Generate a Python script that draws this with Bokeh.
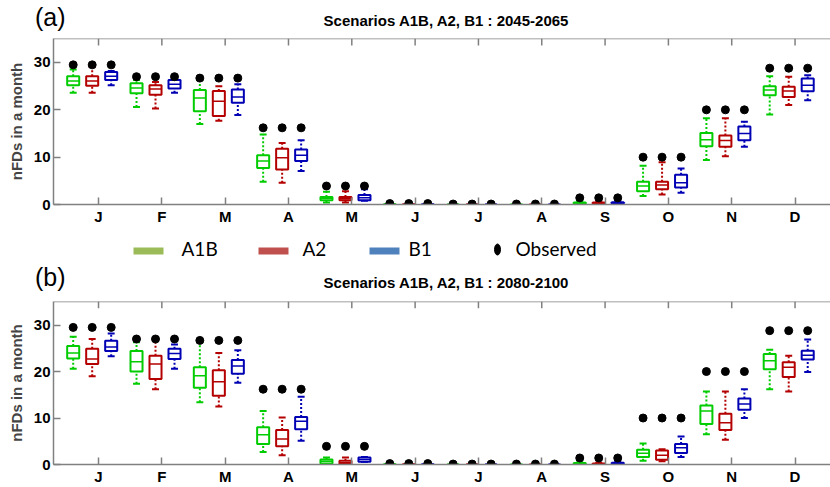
import numpy as np
from bokeh.plotting import figure
from bokeh.models import Range1d, FixedTicker, Span, Div
from bokeh.layouts import column
from bokeh.embed import file_html
from bokeh.resources import INLINE
from bokeh.core.properties import value

# ---------------- data ----------------
months = ["J", "F", "M", "A", "M", "J", "J", "A", "S", "O", "N", "D"]
month_pos = list(range(1, 13))
y_ticks = [0, 10, 20, 30]
scenarios = ["A1B", "A2", "B1"]
observed = [29.5, 27.0, 26.7, 16.2, 3.9, 0.2, 0.1, 0.1, 1.4, 10.0, 20.0, 28.8]

# Panel (a) 2045-2065
a_A1B_hi  = [28.5, 26.3, 26.3, 14.8, 2.7, 0.1, 0.05, 0.05, 0.7, 8.2, 18.2, 27.1]
a_A1B_q3  = [27.1, 25.6, 24.2, 10.4, 1.6, 0.05, 0.0, 0.0, 0.4, 4.8, 15.1, 25.0]
a_A1B_med = [26.1, 24.6, 22.5, 9.2, 1.3, 0.0, 0.0, 0.0, 0.1, 3.9, 13.7, 24.2]
a_A1B_q1  = [25.2, 23.5, 19.7, 7.7, 0.9, 0.0, 0.0, 0.0, 0.0, 2.8, 12.3, 23.1]
a_A1B_lo  = [23.6, 20.6, 17.0, 4.8, 0.4, 0.0, 0.0, 0.0, 0.0, 1.8, 9.4, 19.0]

a_A2_hi  = [29.1, 25.9, 25.0, 13.0, 2.8, 0.1, 0.05, 0.05, 0.7, 8.9, 18.2, 27.0]
a_A2_q3  = [27.1, 25.2, 24.0, 11.8, 1.6, 0.05, 0.0, 0.0, 0.4, 4.8, 14.6, 24.9]
a_A2_med = [26.1, 24.4, 21.8, 9.9, 1.2, 0.0, 0.0, 0.0, 0.1, 4.1, 13.5, 24.0]
a_A2_q1  = [25.1, 23.2, 18.7, 7.4, 0.9, 0.0, 0.0, 0.0, 0.0, 3.2, 12.2, 22.7]
a_A2_lo  = [23.6, 20.3, 17.7, 4.6, 0.4, 0.0, 0.0, 0.0, 0.0, 2.1, 10.2, 21.0]

a_B1_hi  = [28.2, 27.0, 25.4, 13.6, 3.2, 0.1, 0.05, 0.05, 0.8, 7.6, 17.5, 27.3]
a_B1_q3  = [28.0, 26.3, 24.3, 11.6, 2.0, 0.05, 0.0, 0.0, 0.5, 6.3, 16.5, 26.6]
a_B1_med = [27.1, 25.4, 22.7, 10.4, 1.4, 0.0, 0.0, 0.0, 0.2, 4.6, 15.0, 25.2]
a_B1_q1  = [26.3, 24.5, 21.5, 9.2, 0.9, 0.0, 0.0, 0.0, 0.1, 3.6, 13.6, 23.9]
a_B1_lo  = [25.2, 23.6, 18.9, 7.1, 0.8, 0.0, 0.0, 0.0, 0.0, 2.5, 12.2, 22.0]

# Panel (b) 2080-2100
b_A1B_hi  = [27.5, 26.3, 26.3, 11.5, 1.5, 0.1, 0.05, 0.05, 0.5, 4.5, 15.7, 24.7]
b_A1B_q3  = [25.5, 24.4, 20.9, 8.0, 1.1, 0.05, 0.0, 0.0, 0.3, 3.2, 12.7, 23.8]
b_A1B_med = [24.0, 22.1, 19.1, 6.4, 0.7, 0.0, 0.0, 0.0, 0.1, 2.4, 11.5, 22.3]
b_A1B_q1  = [22.8, 20.0, 16.5, 4.4, 0.2, 0.0, 0.0, 0.0, 0.0, 1.6, 8.7, 20.5]
b_A1B_lo  = [20.6, 17.4, 13.4, 2.7, 0.0, 0.0, 0.0, 0.0, 0.0, 0.8, 6.5, 16.2]

b_A2_hi  = [27.0, 26.7, 24.0, 10.1, 1.5, 0.1, 0.05, 0.05, 0.4, 3.3, 15.7, 23.4]
b_A2_q3  = [24.9, 23.4, 20.3, 7.4, 0.8, 0.05, 0.0, 0.0, 0.2, 3.0, 10.9, 22.0]
b_A2_med = [22.7, 21.6, 17.8, 5.5, 0.4, 0.0, 0.0, 0.0, 0.1, 2.0, 9.0, 20.9]
b_A2_q1  = [21.6, 18.4, 14.8, 3.9, 0.1, 0.0, 0.0, 0.0, 0.0, 1.0, 7.4, 18.8]
b_A2_lo  = [19.0, 16.2, 12.5, 2.0, 0.0, 0.0, 0.0, 0.0, 0.0, 0.7, 5.3, 15.7]

b_B1_hi  = [28.2, 25.8, 24.6, 14.6, 1.6, 0.1, 0.05, 0.05, 0.6, 6.0, 16.2, 26.9]
b_B1_q3  = [26.6, 24.9, 22.5, 10.2, 1.5, 0.05, 0.0, 0.0, 0.4, 4.4, 14.2, 24.5]
b_B1_med = [25.3, 23.9, 21.2, 9.3, 1.1, 0.0, 0.0, 0.0, 0.1, 3.6, 13.0, 23.5]
b_B1_q1  = [24.4, 22.7, 19.5, 7.6, 0.6, 0.0, 0.0, 0.0, 0.0, 2.5, 11.8, 22.6]
b_B1_lo  = [23.3, 20.6, 17.6, 5.1, 0.6, 0.0, 0.0, 0.0, 0.0, 1.6, 10.0, 19.9]

panel_a = {
    "A1B": (a_A1B_lo, a_A1B_q1, a_A1B_med, a_A1B_q3, a_A1B_hi),
    "A2": (a_A2_lo, a_A2_q1, a_A2_med, a_A2_q3, a_A2_hi),
    "B1": (a_B1_lo, a_B1_q1, a_B1_med, a_B1_q3, a_B1_hi),
}
panel_b = {
    "A1B": (b_A1B_lo, b_A1B_q1, b_A1B_med, b_A1B_q3, b_A1B_hi),
    "A2": (b_A2_lo, b_A2_q1, b_A2_med, b_A2_q3, b_A2_hi),
    "B1": (b_B1_lo, b_B1_q1, b_B1_med, b_B1_q3, b_B1_hi),
}

# ---------------- style ----------------
BOX_COLORS = {"A1B": "#00cc00", "A2": "#b40000", "B1": "#0000b4"}
LEG_COLORS = {"A1B": "#9bbb59", "A2": "#c0504d", "B1": "#4f81bd"}
OFFSETS = {"A1B": -0.4, "A2": -0.1, "B1": 0.2}
BOX_W = 0.19
CAP_W = 0.11
FONT = "Liberation Sans"
AXIS_GRAY = "#808080"
X_RANGE = (0.289, 12.56)
Y_RANGE = (0.0, 35.07)
PX_PER_UNIT = 166 / (Y_RANGE[1] - Y_RANGE[0])
FRAME_LEFT = 53


def style_axis(ax):
    ax.axis_line_color = AXIS_GRAY
    ax.axis_line_width = 1.5
    ax.major_tick_line_color = AXIS_GRAY
    ax.major_tick_line_width = 1.5
    ax.major_tick_in = 7
    ax.major_tick_out = 0
    ax.minor_tick_line_color = None
    ax.major_label_text_font = FONT
    ax.major_label_text_font_style = "bold"
    ax.major_label_text_color = "black"
    ax.major_label_text_font_size = "15px"


def make_header(tag, title, height, tag_top, title_top):
    html = (
        f'<div style="position:relative;width:830px;height:{height}px;overflow:hidden;'
        f"font-family:'{FONT}',Arial,sans-serif;color:black;\">"
        f'<span style="position:absolute;left:35px;top:{tag_top}px;font-size:25px;'
        f'line-height:25px;white-space:nowrap;">{tag}</span>'
        f'<span style="position:absolute;left:246px;width:400px;text-align:center;top:{title_top}px;'
        f'font-size:15px;line-height:15px;font-weight:bold;white-space:nowrap;">{title}</span>'
        f"</div>"
    )
    return Div(text=html, width=830, height=height, margin=(0, 0, 0, 0))


def make_panel(stats, height, bottom):
    p = figure(width=830, height=height,
               x_range=Range1d(*X_RANGE), y_range=Range1d(*Y_RANGE),
               output_backend="svg", toolbar_location=None,
               min_border_left=FRAME_LEFT, min_border_right=0,
               min_border_top=2, min_border_bottom=bottom,
               outline_line_color=None, background_fill_color="white")
    p.grid.visible = False

    xa = p.xaxis[0]
    xa.ticker = FixedTicker(ticks=month_pos)
    xa.major_label_overrides = {m: lab for m, lab in zip(month_pos, months)}
    style_axis(xa)
    xa.major_label_standoff = 3

    ya = p.yaxis[0]
    ya.ticker = FixedTicker(ticks=y_ticks)
    style_axis(ya)
    ya.major_label_standoff = 3
    ya.axis_label = "nFDs in a month"
    ya.axis_label_text_font = FONT
    ya.axis_label_text_font_style = "bold"
    ya.axis_label_text_font_size = "15px"
    ya.axis_label_standoff = 6

    # top frame line with inward ticks (no labels)
    p.add_layout(Span(location=Y_RANGE[1], dimension="width", line_color=AXIS_GRAY, line_width=1.5))
    top_y = np.full(len(month_pos), Y_RANGE[1])
    p.segment(x0=month_pos, y0=top_y, x1=month_pos, y1=top_y - 7 / PX_PER_UNIT,
              line_color=AXIS_GRAY, line_width=1.5)

    for sc in scenarios:
        lo, q1, med, q3, hi = (np.array(v) for v in stats[sc])
        xs = np.array(month_pos) + OFFSETS[sc]
        c = BOX_COLORS[sc]
        p.segment(x0=xs, y0=q3, x1=xs, y1=hi, line_color=c, line_width=2, line_dash="2 2")
        p.segment(x0=xs, y0=lo, x1=xs, y1=q1, line_color=c, line_width=2, line_dash="2 2")
        p.segment(x0=xs - CAP_W / 2, y0=hi, x1=xs + CAP_W / 2, y1=hi, line_color=c, line_width=2)
        p.segment(x0=xs - CAP_W / 2, y0=lo, x1=xs + CAP_W / 2, y1=lo, line_color=c, line_width=2)
        p.quad(left=xs - BOX_W / 2, right=xs + BOX_W / 2, bottom=q1, top=q3,
               fill_color="white", line_color=c, line_width=2)
        p.segment(x0=xs - BOX_W / 2, y0=med, x1=xs + BOX_W / 2, y1=med, line_color=c, line_width=1.5)
        p.scatter(x=xs, y=observed, size=8, marker="circle", fill_color="black", line_color="black")
    return p


head_a = make_header("(a)", "Scenarios A1B, A2, B1 : 2045-2065", 36, 5, 13)
fig_a = make_panel(panel_a, 192, 24)

# ---------------- legend strip (frame aligned with panels: x in page pixels) ----------------
LEG_H = 34
leg = figure(width=830, height=LEG_H, x_range=Range1d(FRAME_LEFT, 830), y_range=Range1d(0, LEG_H),
             output_backend="svg", toolbar_location=None, x_axis_type=None, y_axis_type=None,
             min_border=0, min_border_left=FRAME_LEFT, min_border_right=0,
             outline_line_color=None)
leg.grid.visible = False
leg_x = {"A1B": 133, "A2": 258, "B1": 369}
leg_tx = {"A1B": 181, "A2": 302, "B1": 408}
for sc in scenarios:
    leg.quad(left=leg_x[sc], right=leg_x[sc] + 30, bottom=8, top=15,
             fill_color=LEG_COLORS[sc], line_color=None)
    leg.text(x=leg_tx[sc], y=14.5, text=value(sc), text_font=value("Lato"),
             text_font_size="19px", text_baseline="middle", text_align="left", text_color="black")
leg.ellipse(x=497, y=13, width=6, height=11, fill_color="black", line_color="black")
leg.text(x=515, y=14.5, text=value("Observed"), text_font=value("Lato"),
         text_font_size="19px", text_baseline="middle", text_align="left", text_color="black")

head_b = make_header("(b)", "Scenarios A1B, A2, B1 : 2080-2100", 37, 3, 13)
fig_b = make_panel(panel_b, 188, 20)

layout = column(head_a, fig_a, leg, head_b, fig_b, spacing=0)
open("out.html", "w").write(file_html(layout, INLINE))
